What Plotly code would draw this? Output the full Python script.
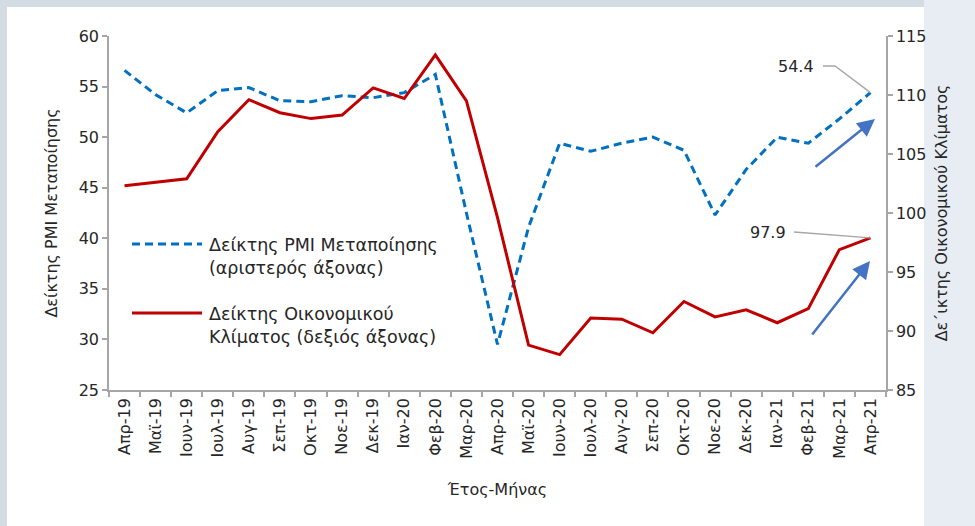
import plotly.graph_objects as go

months = ["Απρ-19", "Μαϊ-19", "Ιουν-19", "Ιουλ-19", "Αυγ-19", "Σεπ-19", "Οκτ-19", "Νοε-19",
          "Δεκ-19", "Ιαν-20", "Φεβ-20", "Μαρ-20", "Απρ-20", "Μαϊ-20", "Ιουν-20", "Ιουλ-20",
          "Αυγ-20", "Σεπ-20", "Οκτ-20", "Νοε-20", "Δεκ-20", "Ιαν-21", "Φεβ-21", "Μαρ-21", "Απρ-21"]

pmi = [56.6, 54.2, 52.4, 54.6, 54.9, 53.6, 53.5, 54.1, 53.9, 54.4, 56.2, 42.5, 29.5,
       41.1, 49.4, 48.6, 49.4, 50.0, 48.7, 42.3, 46.8, 50.0, 49.4, 51.8, 54.4]

esi = [102.3, 102.6, 102.9, 106.9, 109.6, 108.5, 108.0, 108.3, 110.6, 109.7, 113.4, 109.5, 99.6,
       88.8, 88.0, 91.1, 91.0, 89.85, 92.5, 91.2, 91.8, 90.7, 91.9, 96.9, 97.9]

left_range = [25, 60]
right_range = [85, 115]

# plot-area geometry (pixels)
W_FIG, H_FIG = 975, 526
L, R, T, B = 109, 886, 36, 390
PW, PH = R - L, B - T

def px(x):
    return (x - L) / PW

def py(y):
    return (B - y) / PH

def x_of(i):
    return L + (i + 0.5) * PW / len(months)

def y_left(v):
    return B - (v - left_range[0]) / (left_range[1] - left_range[0]) * PH

def y_right(v):
    return B - (v - right_range[0]) / (right_range[1] - right_range[0]) * PH

FONT = "DejaVu Sans"
TXT = "#262626"
AX = "#a6a6a6"
BLUE = "#0070c0"
RED = "#c00000"
ARROW = "#4472c4"
TICK_SIZE = 16

fig = go.Figure()
fig.add_trace(go.Scatter(x=months, y=pmi, mode="lines", name="Δείκτης PMI Μεταποίησης (αριστερός άξονας)",
                         line=dict(color=BLUE, width=3, dash="8px,5px"), yaxis="y"))
fig.add_trace(go.Scatter(x=months, y=esi, mode="lines", name="Δείκτης Οικονομικού Κλίματος (δεξιός άξονας)",
                         line=dict(color=RED, width=3), yaxis="y2"))

shapes = []
# page frame
shapes.append(dict(type="rect", xref="paper", yref="paper", x0=px(0), x1=px(7), y0=py(0), y1=py(H_FIG),
                   fillcolor="#d3dbe3", line=dict(width=0), layer="below"))
shapes.append(dict(type="rect", xref="paper", yref="paper", x0=px(0), x1=px(924), y0=py(0), y1=py(7),
                   fillcolor="#d3dbe3", line=dict(width=0), layer="below"))
shapes.append(dict(type="rect", xref="paper", yref="paper", x0=px(924), x1=px(W_FIG), y0=py(0), y1=py(H_FIG),
                   fillcolor="#e8edf4", line=dict(width=0), layer="below"))

# manual legend samples
shapes.append(dict(type="line", xref="paper", yref="paper", x0=px(132), x1=px(202), y0=py(244), y1=py(244),
                   line=dict(color=BLUE, width=3, dash="8px,5px")))
shapes.append(dict(type="line", xref="paper", yref="paper", x0=px(132), x1=px(202), y0=py(313), y1=py(313),
                   line=dict(color=RED, width=3)))

# leader lines for last-value labels
last = len(months) - 1
xp = x_of(last)
yp1 = y_left(pmi[last])
shapes.append(dict(type="path", xref="paper", yref="paper",
                   path=f"M {px(823)},{py(66)} L {px(835)},{py(66)} L {px(xp)},{py(yp1)}",
                   line=dict(color=AX, width=1.3)))
yp2 = y_right(esi[last])
shapes.append(dict(type="line", xref="paper", yref="paper", x0=px(794), y0=py(232), x1=px(xp), y1=py(yp2),
                   line=dict(color=AX, width=1.3)))

annotations = [
    dict(xref="paper", yref="paper", x=px(207), y=py(256), xanchor="left", yanchor="middle", align="left",
         text="Δείκτης PMI Μεταποίησης<br>(αριστερός άξονας)", showarrow=False,
         font=dict(family=FONT, size=17.5, color=TXT)),
    dict(xref="paper", yref="paper", x=px(207), y=py(325), xanchor="left", yanchor="middle", align="left",
         text="Δείκτης Οικονομικού<br>Κλίματος (δεξιός άξονας)", showarrow=False,
         font=dict(family=FONT, size=17.5, color=TXT)),
    dict(xref="paper", yref="paper", x=px(816), y=py(66), xanchor="right", yanchor="middle",
         text=f"{pmi[last]:.1f}", showarrow=False, font=dict(family=FONT, size=TICK_SIZE, color=TXT)),
    dict(xref="paper", yref="paper", x=px(788), y=py(232), xanchor="right", yanchor="middle",
         text=f"{esi[last]:.1f}", showarrow=False, font=dict(family=FONT, size=TICK_SIZE, color=TXT)),
    # trend arrows
    dict(xref="paper", yref="paper", x=px(875), y=py(119), ax=-61, ay=49, text="", showarrow=True,
         arrowhead=2, arrowsize=1.4, arrowwidth=2.5, arrowcolor=ARROW, standoff=0),
    dict(xref="paper", yref="paper", x=px(870), y=py(261), ax=-59, ay=75, text="", showarrow=True,
         arrowhead=2, arrowsize=1.4, arrowwidth=2.5, arrowcolor=ARROW, standoff=0),
]

fig.update_layout(
    width=W_FIG, height=H_FIG,
    margin=dict(l=L, r=W_FIG - R, t=T, b=H_FIG - B, pad=0),
    paper_bgcolor="white", plot_bgcolor="white",
    showlegend=False,
    font=dict(family=FONT, color=TXT, size=TICK_SIZE),
    shapes=shapes, annotations=annotations,
    xaxis=dict(type="category", categoryorder="array", categoryarray=months,
               showline=True, linecolor=AX, linewidth=1.5, showgrid=False, zeroline=False,
               ticks="outside", tickson="boundaries", ticklen=5, tickcolor=AX, tickwidth=1.5,
               tickangle=-90, tickfont=dict(family=FONT, size=TICK_SIZE, color=TXT),
               title=dict(text="Έτος-Μήνας", font=dict(family=FONT, size=TICK_SIZE, color=TXT), standoff=26),
               range=[-0.5, len(months) - 0.5]),
    yaxis=dict(range=left_range, dtick=5, showline=True, linecolor=AX, linewidth=1.5, showgrid=False,
               zeroline=False, ticks="outside", ticklen=5, tickcolor=AX, tickwidth=1.5,
               tickfont=dict(family=FONT, size=TICK_SIZE, color=TXT),
               title=dict(text="Δείκτης PMI Μεταποίησης", font=dict(family=FONT, size=TICK_SIZE, color=TXT),
                          standoff=17)),
    yaxis2=dict(range=right_range, dtick=5, overlaying="y", side="right", showline=True, linecolor=AX,
                linewidth=1.5, showgrid=False, zeroline=False, ticks="outside", ticklen=5, tickcolor=AX,
                tickwidth=1.5, tickfont=dict(family=FONT, size=TICK_SIZE, color=TXT),
                title=dict(text="Δε΄ικτης Οικονομικού Κλίματος", font=dict(family=FONT, size=TICK_SIZE, color=TXT),
                           standoff=10)),
)

fig.write_html("out.html", config={"displayModeBar": False},
               post_script="document.body.style.margin='0';")
